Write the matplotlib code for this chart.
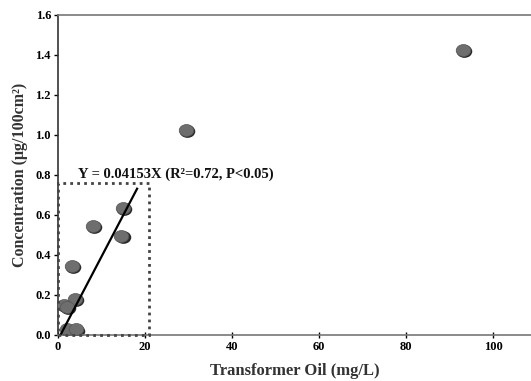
import numpy as np
import matplotlib
matplotlib.use("Agg")
import matplotlib.pyplot as plt
from matplotlib.path import Path
from matplotlib.patches import Rectangle

# Data
oil = [93.0, 29.5, 15.0, 8.0, 14.6, 3.2, 3.9, 1.3, 2.0, 2.0, 4.1]
conc = [1.425, 1.025, 0.635, 0.545, 0.495, 0.345, 0.178, 0.148, 0.14, 0.027, 0.027]
slope = 0.04153
fit_x = [0.6, 18.2]
x_ticks = [0, 20, 40, 60, 80, 100]
y_ticks = [0.0, 0.2, 0.4, 0.6, 0.8, 1.0, 1.2, 1.4, 1.6]

plt.rcParams['font.family'] = ['Liberation Serif', 'DejaVu Serif']
plt.rcParams['font.weight'] = 'bold'

fig = plt.figure(figsize=(5.31, 3.81), dpi=100)
ax = fig.add_axes([0.109, 0.121, 0.891, 0.84])

# slightly flattened circle marker
circ = Path.unit_circle()
oval = Path(circ.vertices * np.array([1.0, 0.82]), circ.codes)

ax.scatter(np.array(oil) + 0.25, np.array(conc) - 0.006, s=125, marker=oval,
           color='#2a2a2a', zorder=2, linewidths=0)
ax.scatter(oil, conc, s=110, marker=oval, color='#6e6e6e', zorder=3,
           edgecolors='#555555', linewidths=0.5)

fx = np.array(fit_x)
ax.plot(fx, slope * fx - 0.025, color='black', lw=1.6, zorder=4)

ax.add_patch(Rectangle((0, 0), 21.0, 0.758, fill=False, ls=(0, (1, 1.5)),
                       lw=2.0, edgecolor='#444444', zorder=5, clip_on=False))

ax.text(4.6, 0.768, 'Y = 0.04153X (R²=0.72, P<0.05)', fontsize=10.5,
        fontweight='bold', color='#111111', va='bottom')

ax.set_xlim(0, 108.7)
ax.set_ylim(0, 1.6)
ax.set_xticks(x_ticks)
ax.set_yticks(y_ticks)
ax.set_xticklabels([str(v) for v in x_ticks])
ax.set_yticklabels(['%.1f' % v for v in y_ticks])
ax.tick_params(axis='x', direction='inout', length=5, width=1, labelsize=9, pad=2)
ax.tick_params(axis='y', direction='out', length=3, width=1, labelsize=9, pad=2)

for s in ['top', 'left', 'bottom']:
    ax.spines[s].set_color('#777777')
    ax.spines[s].set_linewidth(1.2)
ax.spines['left'].set_color('#333333')
ax.spines['right'].set_visible(False)

ax.set_xlabel('Transformer Oil (mg/L)', fontsize=12, fontweight='bold',
              color='#333333', labelpad=7)
ax.set_ylabel('Concentration (μg/100cm²)', fontsize=11.5, fontweight='bold',
              color='#333333', labelpad=5)

fig.savefig('out.png', dpi=100)
